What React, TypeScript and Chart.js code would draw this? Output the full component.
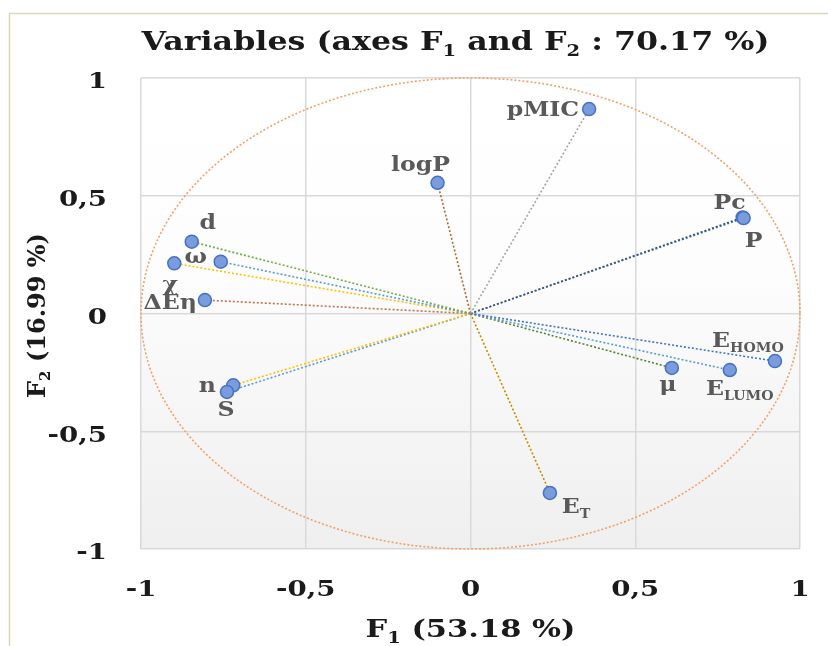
import React, { useEffect, useRef } from "react";
import { Chart, registerables } from "chart.js";
Chart.register(...registerables);

// ---- data ----
const variables = ["pMIC", "logP", "Pc", "P", "d", "ω", "χ", "ΔEη", "n", "S", "EHOMO", "ELUMO", "μ", "ET"];
const f1Values = [0.36, -0.1, 0.826, 0.829, -0.846, -0.758, -0.899, -0.806, -0.72, -0.739, 0.924, 0.787, 0.611, 0.241];
const f2Values = [0.868, 0.555, 0.408, 0.405, 0.305, 0.22, 0.213, 0.057, -0.305, -0.333, -0.202, -0.24, -0.231, -0.762];
const tickValues = [-1, -0.5, 0, 0.5, 1];
const tickLabels = ["-1", "-0,5", "0", "0,5", "1"];
const titleText = "Variables (axes F1 and F2 : 70.17 %)";
const xTitle = "F1 (53.18 %)";
const yTitle = "F2 (16.99 %)";

// ---- styles ----
const lineColors: Record<string, string> = {
  pMIC: "#a5a5a5",
  logP: "#b5652f",
  Pc: "#44546a",
  P: "#4472c4",
  d: "#70ad47",
  "ω": "#5b9bd5",
  "χ": "#ffc000",
  "ΔEη": "#c5704a",
  n: "#ffc000",
  S: "#5b9bd5",
  EHOMO: "#4472c4",
  ELUMO: "#5b9bd5",
  "μ": "#548235",
  ET: "#bf9000",
};

type Part = { t: string; sub?: boolean };
const labelParts: Record<string, Part[]> = {
  EHOMO: [{ t: "E" }, { t: "HOMO", sub: true }],
  ELUMO: [{ t: "E" }, { t: "LUMO", sub: true }],
  ET: [{ t: "E" }, { t: "T", sub: true }],
};
// label placement: [dx, dy, align]
const labelPlace: Record<string, [number, number, CanvasTextAlign]> = {
  pMIC: [-10, 0, "right"],
  logP: [-17, -19, "center"],
  Pc: [-13, -16, "center"],
  P: [10, 22, "center"],
  d: [16, -20, "center"],
  "ω": [-25, -6, "center"],
  "χ": [-4, 20, "center"],
  "ΔEη": [-8, 2, "right"],
  n: [-26, -1, "center"],
  S: [-1, 17, "center"],
  EHOMO: [-27, -21, "center"],
  ELUMO: [10, 18, "center"],
  "μ": [-4, 16, "center"],
  ET: [26, 13, "center"],
};

const FONT = '"DejaVu Serif"';

function parseSub(s: string): Part[] {
  const out: Part[] = [];
  const re = /F([12])/g;
  let last = 0;
  let m: RegExpExecArray | null;
  while ((m = re.exec(s))) {
    out.push({ t: s.slice(last, m.index) + "F" });
    out.push({ t: m[1], sub: true });
    last = m.index + m[0].length;
  }
  out.push({ t: s.slice(last) });
  return out.filter((p) => p.t.length > 0);
}

function drawRich(
  ctx: CanvasRenderingContext2D,
  parts: Part[],
  x: number,
  y: number,
  size: number,
  align: CanvasTextAlign,
  color: string,
  sx = 1,
  weight = "bold"
) {
  const main = `${weight} ${size}px ${FONT}`;
  const sub = `${weight} ${Math.round(size * 0.62)}px ${FONT}`;
  const widths = parts.map((p) => {
    ctx.font = p.sub ? sub : main;
    return ctx.measureText(p.t).width;
  });
  const total = widths.reduce((a, b) => a + b, 0);
  ctx.save();
  ctx.translate(x, y);
  ctx.scale(sx, 1);
  let cx = align === "center" ? -total / 2 : align === "right" ? -total : 0;
  ctx.fillStyle = color;
  ctx.textAlign = "left";
  ctx.textBaseline = "alphabetic";
  const base = size * 0.36;
  parts.forEach((p, i) => {
    ctx.font = p.sub ? sub : main;
    ctx.fillText(p.t, cx, p.sub ? base + size * 0.22 : base);
    cx += widths[i];
  });
  ctx.restore();
}

const decorPlugin = {
  id: "decor",
  beforeDraw(chart: any) {
    const { ctx, chartArea: a, width, height } = chart;
    ctx.save();
    ctx.fillStyle = "#ffffff";
    ctx.fillRect(0, 0, width, height);
    ctx.strokeStyle = "#dcd8bd";
    ctx.lineWidth = 1.5;
    ctx.beginPath();
    ctx.moveTo(9.5, height);
    ctx.lineTo(9.5, 13.5);
    ctx.lineTo(width, 13.5);
    ctx.stroke();
    const g = ctx.createLinearGradient(0, a.top, 0, a.bottom);
    g.addColorStop(0, "#ffffff");
    g.addColorStop(0.4, "#fdfdfd");
    g.addColorStop(1, "#efefef");
    ctx.fillStyle = g;
    ctx.fillRect(a.left, a.top, a.right - a.left, a.bottom - a.top);
    ctx.restore();
  },
  beforeDatasetsDraw(chart: any) {
    const { ctx } = chart;
    const xs = chart.scales.x;
    const ys = chart.scales.y;
    const cx = xs.getPixelForValue(0);
    const cy = ys.getPixelForValue(0);
    const rx = xs.getPixelForValue(1) - cx;
    const ry = cy - ys.getPixelForValue(1);
    ctx.save();
    ctx.strokeStyle = "#f2a06a";
    ctx.lineWidth = 1.6;
    ctx.setLineDash([2, 2]);
    ctx.beginPath();
    ctx.ellipse(cx, cy, rx, ry, 0, 0, Math.PI * 2);
    ctx.stroke();
    ctx.restore();
  },
  afterDraw(chart: any) {
    const { ctx, chartArea: a } = chart;
    const xs = chart.scales.x;
    const ys = chart.scales.y;
    drawRich(ctx, parseSub(titleText), (a.left + a.right) / 2 - 15, 41, 26, "center", "#1a1a1a", 1.22);
    tickValues.forEach((v, i) => {
      drawRich(ctx, [{ t: tickLabels[i] }], xs.getPixelForValue(v), 588, 23, "center", "#1a1a1a", 1.2);
      drawRich(ctx, [{ t: tickLabels[i] }], 107, ys.getPixelForValue(v) + 2, 23, "right", "#1a1a1a", 1.2);
    });
    drawRich(ctx, parseSub(xTitle), (a.left + a.right) / 2, 628, 25, "center", "#1a1a1a", 1.22);
    ctx.save();
    ctx.translate(36, (a.top + a.bottom) / 2 + 2);
    ctx.rotate(-Math.PI / 2);
    drawRich(ctx, parseSub(yTitle), 0, 0, 24, "center", "#1a1a1a", 1.0);
    ctx.restore();
    variables.forEach((name, i) => {
      const px = xs.getPixelForValue(f1Values[i]);
      const py = ys.getPixelForValue(f2Values[i]);
      const [dx, dy, al] = labelPlace[name];
      drawRich(ctx, labelParts[name] || [{ t: name }], px + dx, py + dy, 20, al, "#595959", 1.18);
    });
  },
};

export default function App() {
  const ref = useRef<HTMLCanvasElement>(null);
  useEffect(() => {
    const canvas = ref.current!;
    const lineSets = variables.map((name, i) => ({
      type: "scatter" as const,
      label: name,
      data: [
        { x: 0, y: 0 },
        { x: f1Values[i], y: f2Values[i] },
      ],
      showLine: true,
      borderColor: lineColors[name],
      borderWidth: 1.6,
      borderDash: [2, 2],
      pointRadius: 0,
      order: 2,
    }));
    const pointSet = {
      type: "scatter" as const,
      label: "Variables",
      data: variables.map((_, i) => ({ x: f1Values[i], y: f2Values[i] })),
      pointRadius: 6.5,
      pointBackgroundColor: "#7b9cdc",
      pointBorderColor: "#4472c4",
      pointBorderWidth: 1.5,
      order: 0,
    };
    const chart = new Chart(canvas, {
      type: "scatter",
      data: { datasets: [pointSet, ...lineSets] as any },
      options: {
        responsive: false,
        animation: false,
        devicePixelRatio: 1,
        layout: { padding: { top: 78, right: 28, left: 0, bottom: 0 } },
        plugins: { legend: { display: false }, tooltip: { enabled: false }, title: { display: false } },
        scales: {
          x: {
            type: "linear",
            min: -1,
            max: 1,
            ticks: { stepSize: 0.5, display: false },
            grid: { color: "#d9d9d9", lineWidth: 1.5, drawTicks: false },
            border: { display: false },
            afterFit: (s: any) => {
              s.height = 97;
            },
          },
          y: {
            type: "linear",
            min: -1,
            max: 1,
            ticks: { stepSize: 0.5, display: false },
            grid: { color: "#d9d9d9", lineWidth: 1.5, drawTicks: false },
            border: { display: false },
            afterFit: (s: any) => {
              s.width = 141;
            },
          },
        },
      },
      plugins: [decorPlugin],
    });
    return () => chart.destroy();
  }, []);
  return (
    <div style={{ position: "fixed", left: 0, top: 0, width: 828, height: 646, background: "#fff" }}>
      <canvas ref={ref} width={828} height={646} style={{ width: 828, height: 646, display: "block" }} />
    </div>
  );
}
